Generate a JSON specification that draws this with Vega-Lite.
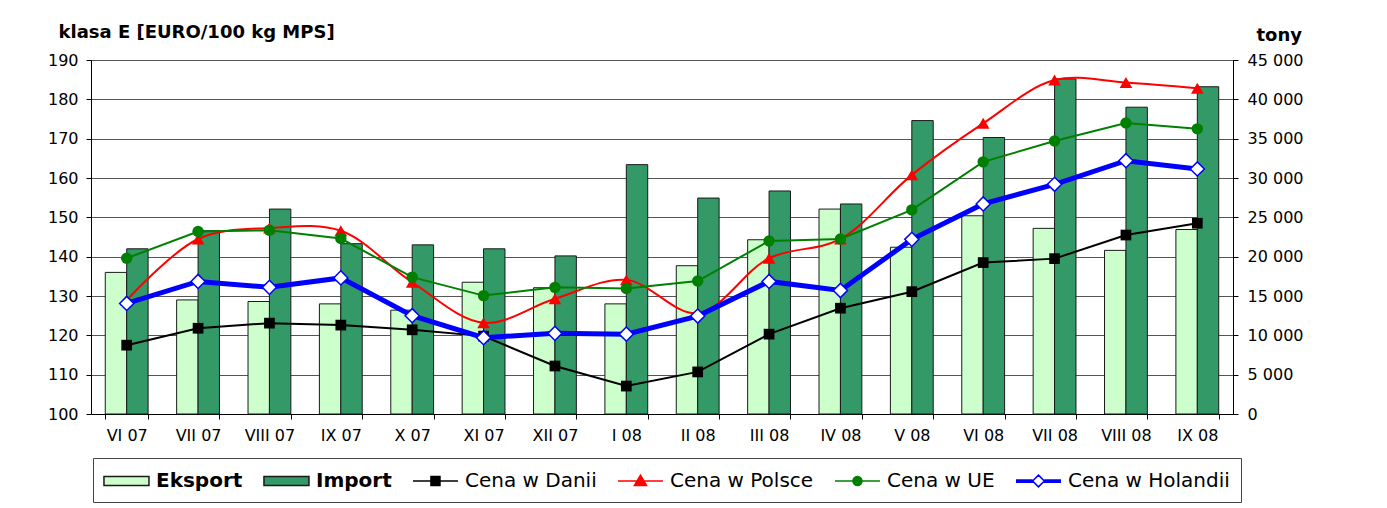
{
  "$schema": "https://vega.github.io/schema/vega-lite/v6.json",
  "width": 1142,
  "height": 354,
  "autosize": {"type": "none"},
  "padding": {"left": 91, "top": 60, "right": 154, "bottom": 94},
  "background": "white",
  "config": {
    "view": {"stroke": "black", "strokeWidth": 1},
    "font": "DejaVu Sans",
    "axis": {"labelFont": "DejaVu Sans", "labelFontSize": 16, "labelColor": "black", "domainColor": "black", "tickColor": "black", "tickSize": 5, "titleFont": "DejaVu Sans", "titleColor": "black"},
    "legend": {"labelFont": "DejaVu Sans", "labelFontSize": 20, "labelColor": "black", "labelLimit": 400, "labelOffset": 28, "columnPadding": 17, "padding": 11, "strokeColor": "#444", "symbolSize": 506.25, "symbolStrokeWidth": 1.5}
  },
  "datasets": {
    "d": [
      {"m": "VI 07", "s": "Eksport", "v": 18000}, {"m": "VI 07", "s": "Import", "v": 21000},
      {"m": "VII 07", "s": "Eksport", "v": 14500}, {"m": "VII 07", "s": "Import", "v": 23300},
      {"m": "VIII 07", "s": "Eksport", "v": 14300}, {"m": "VIII 07", "s": "Import", "v": 26050},
      {"m": "IX 07", "s": "Eksport", "v": 14000}, {"m": "IX 07", "s": "Import", "v": 21650},
      {"m": "X 07", "s": "Eksport", "v": 13200}, {"m": "X 07", "s": "Import", "v": 21500},
      {"m": "XI 07", "s": "Eksport", "v": 16750}, {"m": "XI 07", "s": "Import", "v": 21000},
      {"m": "XII 07", "s": "Eksport", "v": 16050}, {"m": "XII 07", "s": "Import", "v": 20100},
      {"m": "I 08", "s": "Eksport", "v": 14000}, {"m": "I 08", "s": "Import", "v": 31700},
      {"m": "II 08", "s": "Eksport", "v": 18850}, {"m": "II 08", "s": "Import", "v": 27450},
      {"m": "III 08", "s": "Eksport", "v": 22150}, {"m": "III 08", "s": "Import", "v": 28350},
      {"m": "IV 08", "s": "Eksport", "v": 26050}, {"m": "IV 08", "s": "Import", "v": 26700},
      {"m": "V 08", "s": "Eksport", "v": 21200}, {"m": "V 08", "s": "Import", "v": 37300},
      {"m": "VI 08", "s": "Eksport", "v": 25200}, {"m": "VI 08", "s": "Import", "v": 35150},
      {"m": "VII 08", "s": "Eksport", "v": 23600}, {"m": "VII 08", "s": "Import", "v": 42600},
      {"m": "VIII 08", "s": "Eksport", "v": 20800}, {"m": "VIII 08", "s": "Import", "v": 39000},
      {"m": "IX 08", "s": "Eksport", "v": 23450}, {"m": "IX 08", "s": "Import", "v": 41600},

      {"m": "VI 07", "s": "Cena w Danii", "v": 117.5}, {"m": "VII 07", "s": "Cena w Danii", "v": 121.8},
      {"m": "VIII 07", "s": "Cena w Danii", "v": 123.1}, {"m": "IX 07", "s": "Cena w Danii", "v": 122.6},
      {"m": "X 07", "s": "Cena w Danii", "v": 121.4}, {"m": "XI 07", "s": "Cena w Danii", "v": 119.8},
      {"m": "XII 07", "s": "Cena w Danii", "v": 112.2}, {"m": "I 08", "s": "Cena w Danii", "v": 107.1},
      {"m": "II 08", "s": "Cena w Danii", "v": 110.7}, {"m": "III 08", "s": "Cena w Danii", "v": 120.3},
      {"m": "IV 08", "s": "Cena w Danii", "v": 126.9}, {"m": "V 08", "s": "Cena w Danii", "v": 131.1},
      {"m": "VI 08", "s": "Cena w Danii", "v": 138.5}, {"m": "VII 08", "s": "Cena w Danii", "v": 139.5},
      {"m": "VIII 08", "s": "Cena w Danii", "v": 145.5}, {"m": "IX 08", "s": "Cena w Danii", "v": 148.5},

      {"m": "VI 07", "s": "Cena w Polsce", "v": 128.9}, {"m": "VII 07", "s": "Cena w Polsce", "v": 144.5},
      {"m": "VIII 07", "s": "Cena w Polsce", "v": 147.3}, {"m": "IX 07", "s": "Cena w Polsce", "v": 146.6},
      {"m": "X 07", "s": "Cena w Polsce", "v": 133.5}, {"m": "XI 07", "s": "Cena w Polsce", "v": 123.2},
      {"m": "XII 07", "s": "Cena w Polsce", "v": 129.3}, {"m": "I 08", "s": "Cena w Polsce", "v": 134.1},
      {"m": "II 08", "s": "Cena w Polsce", "v": 125.6}, {"m": "III 08", "s": "Cena w Polsce", "v": 139.6},
      {"m": "IV 08", "s": "Cena w Polsce", "v": 144.5}, {"m": "V 08", "s": "Cena w Polsce", "v": 160.8},
      {"m": "VI 08", "s": "Cena w Polsce", "v": 173.9}, {"m": "VII 08", "s": "Cena w Polsce", "v": 184.9},
      {"m": "VIII 08", "s": "Cena w Polsce", "v": 184.3}, {"m": "IX 08", "s": "Cena w Polsce", "v": 182.8},

      {"m": "VI 07", "s": "Cena w UE", "v": 139.6}, {"m": "VII 07", "s": "Cena w UE", "v": 146.4},
      {"m": "VIII 07", "s": "Cena w UE", "v": 146.7}, {"m": "IX 07", "s": "Cena w UE", "v": 144.6},
      {"m": "X 07", "s": "Cena w UE", "v": 134.8}, {"m": "XI 07", "s": "Cena w UE", "v": 130.1},
      {"m": "XII 07", "s": "Cena w UE", "v": 132.2}, {"m": "I 08", "s": "Cena w UE", "v": 131.9},
      {"m": "II 08", "s": "Cena w UE", "v": 133.8}, {"m": "III 08", "s": "Cena w UE", "v": 144.0},
      {"m": "IV 08", "s": "Cena w UE", "v": 144.5}, {"m": "V 08", "s": "Cena w UE", "v": 151.9},
      {"m": "VI 08", "s": "Cena w UE", "v": 164.1}, {"m": "VII 08", "s": "Cena w UE", "v": 169.4},
      {"m": "VIII 08", "s": "Cena w UE", "v": 174.0}, {"m": "IX 08", "s": "Cena w UE", "v": 172.5},

      {"m": "VI 07", "s": "Cena w Holandii", "v": 128.1}, {"m": "VII 07", "s": "Cena w Holandii", "v": 133.7},
      {"m": "VIII 07", "s": "Cena w Holandii", "v": 132.2}, {"m": "IX 07", "s": "Cena w Holandii", "v": 134.6},
      {"m": "X 07", "s": "Cena w Holandii", "v": 125.0}, {"m": "XI 07", "s": "Cena w Holandii", "v": 119.4},
      {"m": "XII 07", "s": "Cena w Holandii", "v": 120.5}, {"m": "I 08", "s": "Cena w Holandii", "v": 120.3},
      {"m": "II 08", "s": "Cena w Holandii", "v": 124.9}, {"m": "III 08", "s": "Cena w Holandii", "v": 133.7},
      {"m": "IV 08", "s": "Cena w Holandii", "v": 131.4}, {"m": "V 08", "s": "Cena w Holandii", "v": 144.4},
      {"m": "VI 08", "s": "Cena w Holandii", "v": 153.4}, {"m": "VII 08", "s": "Cena w Holandii", "v": 158.4},
      {"m": "VIII 08", "s": "Cena w Holandii", "v": 164.4}, {"m": "IX 08", "s": "Cena w Holandii", "v": 162.3}
    ]
  },
  "data": {"name": "d"},
  "layer": [
    {
      "transform": [{"filter": "datum.s == 'Eksport' || datum.s == 'Import'"}],
      "mark": {"type": "bar", "stroke": "#1a1a1a", "strokeWidth": 1},
      "encoding": {
        "x": {"field": "m", "type": "nominal", "sort": ["VI 07","VII 07","VIII 07","IX 07","X 07","XI 07","XII 07","I 08","II 08","III 08","IV 08","V 08","VI 08","VII 08","VIII 08","IX 08"],
          "scale": {"paddingInner": 0.4, "paddingOuter": 0.2},
          "axis": {"title": null, "tickBand": "extent", "labelPadding": 8, "labelAngle": 0, "grid": false}},
        "xOffset": {"field": "s", "type": "nominal", "sort": ["Eksport", "Import"], "scale": {"paddingInner": 0, "paddingOuter": 0}},
        "y": {"field": "v", "type": "quantitative", "scale": {"domain": [0, 45000], "nice": false, "zero": true},
          "axis": {"orient": "right", "values": [0,5000,10000,15000,20000,25000,30000,35000,40000,45000], "grid": false,
            "labelExpr": "replace(format(datum.value, ','), ',', ' ')", "labelPadding": 9,
            "title": "tony", "titleAngle": 0, "titleAlign": "left", "titleBaseline": "alphabetic", "titleX": 23, "titleY": -20, "titleFontSize": 18, "titleFontWeight": "bold"}},
        "fill": {"field": "s", "type": "nominal",
          "scale": {"domain": ["Eksport","Import","Cena w Danii","Cena w Polsce","Cena w UE","Cena w Holandii"], "range": ["#CCFFCC","#339966","#000000","#FF0000","#008000","#FFFFFF"]},
          "legend": {"title": null, "orient": "none", "legendX": 2, "legendY": 398, "direction": "horizontal", "columns": 6,
            "labelFontWeight": {"expr": "indexof(['Eksport','Import'], datum.label) >= 0 ? 'bold' : 'normal'"}}}
      }
    },
    {
      "encoding": {
        "x": {"field": "m", "type": "nominal", "sort": ["VI 07","VII 07","VIII 07","IX 07","X 07","XI 07","XII 07","I 08","II 08","III 08","IV 08","V 08","VI 08","VII 08","VIII 08","IX 08"]},
        "y": {"field": "v", "type": "quantitative", "scale": {"domain": [100, 190], "nice": false, "zero": false},
          "axis": {"orient": "left", "values": [100,110,120,130,140,150,160,170,180,190], "grid": true, "gridColor": "#555", "labelPadding": 8,
            "title": "klasa E [EURO/100 kg MPS]", "titleAngle": 0, "titleAlign": "left", "titleBaseline": "alphabetic", "titleX": -33, "titleY": -23, "titleFontSize": 18, "titleFontWeight": "bold"}}
      },
      "layer": [
        {"transform": [{"filter": "datum.s == 'Cena w Danii'"}], "mark": {"type": "line", "color": "#000000", "strokeWidth": 2}},
        {"transform": [{"filter": "datum.s == 'Cena w Danii'"}], "mark": {"type": "point", "shape": "square", "size": 115, "filled": true, "color": "#000000", "opacity": 1}},
        {"transform": [{"filter": "datum.s == 'Cena w Polsce'"}], "mark": {"type": "line", "color": "#FF0000", "strokeWidth": 2, "interpolate": "catmull-rom"}},
        {"transform": [{"filter": "datum.s == 'Cena w Polsce'"}], "mark": {"type": "point", "shape": "triangle-up", "size": 160, "filled": true, "color": "#FF0000", "opacity": 1}},
        {"transform": [{"filter": "datum.s == 'Cena w UE'"}], "mark": {"type": "line", "color": "#008000", "strokeWidth": 2}},
        {"transform": [{"filter": "datum.s == 'Cena w UE'"}], "mark": {"type": "point", "shape": "circle", "size": 130, "filled": true, "color": "#008000", "opacity": 1}},
        {"transform": [{"filter": "datum.s == 'Cena w Holandii'"}], "mark": {"type": "line", "color": "#0000FF", "strokeWidth": 5}},
        {"transform": [{"filter": "datum.s == 'Cena w Holandii'"}], "mark": {"type": "point", "shape": "diamond", "size": 200, "filled": true, "fill": "#FFFFFF", "stroke": "#0000FF", "strokeWidth": 1.5, "opacity": 1}},
        {
          "transform": [{"filter": "false"}],
          "mark": {"type": "point", "filled": true, "opacity": 1},
          "encoding": {
            "fill": {"field": "s", "type": "nominal",
              "scale": {"domain": ["Eksport","Import","Cena w Danii","Cena w Polsce","Cena w UE","Cena w Holandii"], "range": ["#CCFFCC","#339966","#000000","#FF0000","#008000","#FFFFFF"]},
              "legend": {"title": null, "orient": "none", "legendX": 2, "legendY": 398, "direction": "horizontal", "columns": 6,
                "labelFontWeight": {"expr": "indexof(['Eksport','Import'], datum.label) >= 0 ? 'bold' : 'normal'"}}},
            "stroke": {"field": "s", "type": "nominal",
              "scale": {"domain": ["Eksport","Import","Cena w Danii","Cena w Polsce","Cena w UE","Cena w Holandii"], "range": ["#1a1a1a","#1a1a1a","#000000","#FF0000","#008000","#0000FF"]},
              "legend": {"title": null, "orient": "none", "legendX": 2, "legendY": 398, "direction": "horizontal", "columns": 6,
                "labelFontWeight": {"expr": "indexof(['Eksport','Import'], datum.label) >= 0 ? 'bold' : 'normal'"}}},
            "shape": {"field": "s", "type": "nominal",
              "scale": {"domain": ["Eksport","Import","Cena w Danii","Cena w Polsce","Cena w UE","Cena w Holandii"],
                "range": ["M-1.07,-0.4H2.93V0.4H-1.07Z", "M-1.07,-0.4H2.93V0.4H-1.07Z",
                  "M-1.07,0H2.93M0.53,-0.4H1.33V0.4H0.53Z",
                  "M-1.07,0H2.93M0.93,-0.52L1.47,0.4H0.39Z",
                  "M-1.07,0H2.93M0.53,0A0.4,0.4,0,1,1,1.33,0A0.4,0.4,0,1,1,0.53,0Z",
                  "M-1.07,-0.1H0.41M-1.07,0.1H0.41M-1.07,0H0.41M1.45,-0.1H2.93M1.45,0.1H2.93M1.45,0H2.93M0.93,-0.52L1.45,0L0.93,0.52L0.41,0Z"]},
              "legend": {"title": null, "orient": "none", "legendX": 2, "legendY": 398, "direction": "horizontal", "columns": 6,
                "labelFontWeight": {"expr": "indexof(['Eksport','Import'], datum.label) >= 0 ? 'bold' : 'normal'"}}}
          }
        }
      ]
    }
  ],
  "resolve": {"scale": {"y": "independent"}}
}
